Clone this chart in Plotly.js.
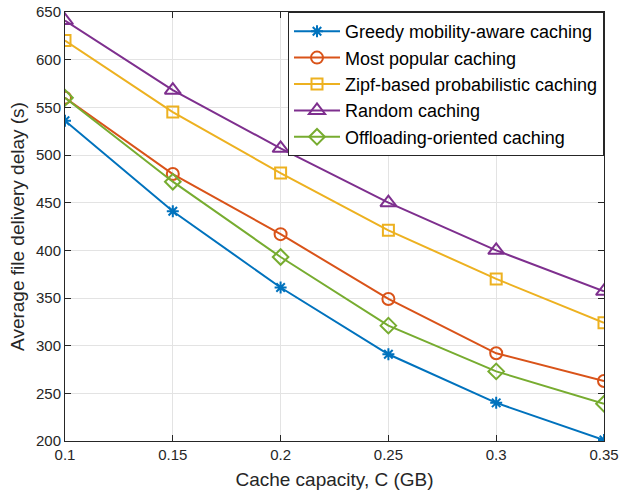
<!DOCTYPE html>
<html>
<head>
<meta charset="utf-8">
<script src="https://cdn.plot.ly/plotly-3.0.1.min.js"></script>
<style>html,body{margin:0;padding:0;background:#fff;}#chart{width:619px;height:495px;}</style>
</head>
<body>
<div id="chart"></div>
<script>
const cacheCapacity = [0.1, 0.15, 0.2, 0.25, 0.3, 0.35];
const seriesNames = [
  "Greedy mobility-aware caching",
  "Most popular caching",
  "Zipf-based probabilistic caching",
  "Random caching",
  "Offloading-oriented caching"
];
const greedy = [536, 441, 361, 291, 240, 201];
const mostPopular = [560, 480, 417, 349, 292, 263];
const zipf = [620, 545, 481, 421, 370, 324];
const randomC = [641, 568, 507, 450, 400, 357];
const offloading = [560, 472, 393, 321, 273, 239];
const yTicks = [200, 250, 300, 350, 400, 450, 500, 550, 600, 650];
const xTicks = [0.1, 0.15, 0.2, 0.25, 0.3, 0.35];
const xTickLabels = ["0.1", "0.15", "0.2", "0.25", "0.3", "0.35"];

const colors = ["#0072BD", "#D95319", "#EDB120", "#7E2F8E", "#77AC30"];
const symbols = ["asterisk-open", "circle-open", "square-open", "triangle-up-open", "diamond-open"];
const sizes = [10, 12, 11, 14, 12];
const allY = [greedy, mostPopular, zipf, randomC, offloading];
const FONT = "Liberation Sans, Arial, Helvetica, sans-serif";

const traces = allY.map((y, i) => ({
  x: cacheCapacity,
  y: y,
  name: seriesNames[i],
  type: "scatter",
  mode: "lines+markers",
  line: {color: colors[i], width: 2},
  marker: {symbol: symbols[i], size: sizes[i], color: colors[i], line: {color: colors[i], width: 2}}
}));

const axisCommon = {
  showline: true, linecolor: "#262626", linewidth: 1, mirror: "ticks",
  ticks: "inside", ticklen: 6, tickcolor: "#262626",
  showgrid: true, gridcolor: "#e3e3e3", gridwidth: 1, zeroline: false,
  ticklabeloverflow: "allow",
  tickfont: {family: FONT, size: 15, color: "#262626"}
};

const layout = {
  width: 619, height: 495,
  margin: {l: 65, r: 15, t: 12, b: 54},
  paper_bgcolor: "#ffffff", plot_bgcolor: "#ffffff",
  showlegend: true,
  xaxis: Object.assign({}, axisCommon, {
    range: [0.1, 0.35], tickvals: xTicks, ticktext: xTickLabels,
    title: {text: "Cache capacity, C (GB)", font: {family: FONT, size: 19, color: "#262626"}, standoff: 10}
  }),
  yaxis: Object.assign({}, axisCommon, {
    range: [200, 650], tickvals: yTicks,
    title: {text: "Average file delivery delay (s)", font: {family: FONT, size: 19, color: "#262626"}, standoff: 6}
  }),
  legend: {
    x: 1, y: 1, xanchor: "right", yanchor: "top",
    bgcolor: "#ffffff", bordercolor: "#262626", borderwidth: 1,
    font: {family: FONT, size: 18, color: "#000000"},
    tracegroupgap: 0, itemwidth: 46
  }
};

Plotly.newPlot("chart", traces, layout, {displayModeBar: false, staticPlot: true});
</script>
</body>
</html>
